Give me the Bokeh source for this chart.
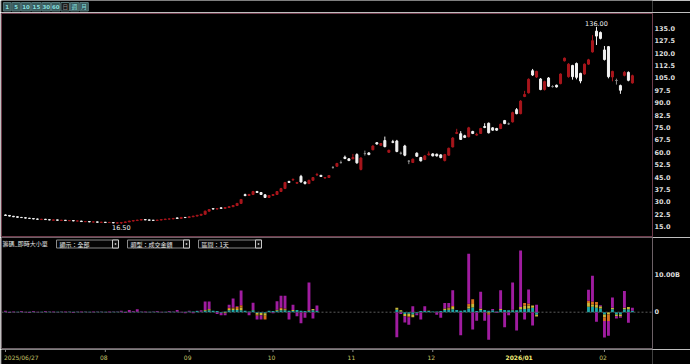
from bokeh.plotting import figure
from bokeh.layouts import column
from bokeh.models import Range1d, LinearAxis, FixedTicker, PrintfTickFormatter, ColumnDataSource, Span
from bokeh.embed import file_html
from bokeh.resources import INLINE
from bokeh.core.properties import value

# ---------------- data ----------------
open_ = [22.0, 21.7, 21.2, 20.9, 20.5, 20.3, 20.0, 19.8, 19.5, 19.2,
         19.4, 19.1, 18.8, 19.0, 18.7, 18.8, 18.5, 18.6, 18.3, 18.3,
         17.9, 18.0, 17.7, 17.8, 17.5, 17.6, 17.4, 17.4, 17.1, 17.2,
         17.4, 17.8, 18.3, 18.6, 18.9, 19.2, 19.0, 18.8, 18.7, 18.9,
         19.2, 19.5, 19.6, 20.2, 19.9, 20.5, 20.4, 20.9, 21.3, 21.8,
         22.4, 24.3, 25.8, 25.6, 26.3, 26.0, 26.5, 27.0, 27.7, 29.0,
         34.3, 33.8, 34.4, 36.2, 35.6, 34.2, 32.6, 33.8, 34.4, 36.2,
         38.0, 42.3, 43.2, 41.2, 45.4, 42.0, 41.0, 43.0, 46.2, 46.0,
         44.4, 44.7, 50.8, 51.5, 53.8, 57.0, 56.0, 56.0, 58.6, 49.6,
         59.2, 59.6, 61.5, 65.8, 64.2, 67.1, 60.0, 66.4, 66.8, 59.4,
         63.8, 54.6, 53.8, 59.4, 56.8, 55.6, 58.4, 59.0, 58.8, 58.4,
         55.0, 58.2, 63.2, 71.4, 71.2, 70.0, 69.4, 72.6, 70.4, 71.4,
         75.6, 77.6, 74.8, 74.4, 74.4, 79.2, 77.2, 78.4, 85.8, 83.4,
         93.8, 96.0, 109.4, 105.6, 104.4, 98.0, 105.0, 99.8, 100.6, 101.6,
         115.4, 105.8, 112.6, 113.8, 107.8, 107.4, 113.4, 120.8, 133.4, 132.6,
         122.0, 124.0, 105.6, 103.5, 100.4, 106.6, 108.4, 102.0]
high_ = [22.3, 21.9, 21.4, 21.1, 20.8, 20.5, 20.2, 20.0, 19.8, 19.6,
         19.6, 19.3, 19.2, 19.1, 19.0, 18.9, 18.8, 18.7, 18.6, 18.4,
         18.2, 18.1, 18.0, 17.9, 17.8, 17.7, 17.6, 17.5, 17.4, 17.6,
         17.9, 18.4, 18.7, 19.0, 19.3, 19.3, 19.1, 18.9, 19.0, 19.3,
         19.6, 19.8, 20.0, 20.4, 20.6, 20.6, 21.0, 21.4, 21.9, 22.6,
         24.6, 25.6, 25.9, 26.0, 26.5, 26.7, 27.2, 27.9, 29.2, 31.6,
         34.9, 34.8, 36.6, 36.6, 35.8, 34.5, 34.1, 34.7, 36.5, 38.4,
         42.0, 42.7, 44.2, 42.0, 46.3, 42.3, 43.3, 45.0, 47.5, 46.3,
         45.0, 46.2, 51.6, 53.6, 55.0, 58.0, 56.4, 59.0, 59.4, 57.0,
         61.0, 60.0, 64.2, 66.2, 65.6, 69.5, 61.5, 67.5, 67.5, 60.4,
         64.5, 55.2, 56.2, 60.0, 57.2, 58.2, 60.5, 59.4, 59.2, 58.8,
         59.0, 62.8, 69.2, 74.2, 72.8, 70.6, 75.4, 73.0, 71.8, 74.8,
         77.6, 78.0, 75.2, 74.8, 77.4, 79.6, 78.0, 84.6, 86.8, 91.6,
         97.2, 104.8, 110.5, 109.4, 105.0, 103.4, 105.6, 100.6, 101.0, 107.8,
         117.4, 114.0, 113.0, 114.4, 108.2, 113.8, 116.6, 131.0, 136.0, 133.2,
         124.4, 124.4, 109.4, 104.6, 101.0, 109.2, 109.0, 107.0]
low_ = [21.5, 21.1, 20.7, 20.4, 20.2, 19.9, 19.7, 19.4, 19.2, 19.1,
        19.0, 18.8, 18.7, 18.6, 18.5, 18.4, 18.3, 18.2, 18.1, 17.9,
        17.7, 17.6, 17.5, 17.4, 17.3, 17.2, 17.1, 17.0, 16.9, 16.5,
        17.3, 17.7, 18.1, 18.4, 18.8, 18.9, 18.7, 18.5, 18.6, 18.8,
        19.1, 19.3, 19.5, 19.8, 19.8, 20.2, 20.3, 20.8, 21.2, 21.7,
        22.3, 24.1, 25.4, 25.4, 25.8, 25.9, 26.4, 26.9, 27.6, 28.9,
        33.3, 33.6, 34.3, 35.4, 34.2, 32.3, 32.4, 33.6, 34.3, 36.0,
        37.8, 41.4, 42.8, 40.9, 41.6, 40.5, 40.8, 42.8, 45.8, 45.0,
        44.0, 44.5, 50.0, 51.2, 53.0, 55.8, 54.6, 55.8, 53.0, 49.0,
        58.0, 58.2, 61.2, 64.6, 64.0, 63.0, 59.6, 65.5, 60.0, 58.6,
        57.6, 52.8, 53.5, 57.2, 54.4, 55.2, 58.0, 57.5, 57.4, 56.3,
        54.4, 58.0, 63.0, 71.0, 67.5, 68.6, 69.0, 71.0, 70.0, 71.2,
        74.6, 71.4, 73.0, 73.0, 74.0, 77.0, 76.6, 78.0, 83.0, 83.0,
        93.4, 95.6, 106.2, 105.0, 97.6, 97.4, 99.6, 99.2, 99.2, 101.2,
        115.0, 105.2, 104.0, 104.2, 101.8, 107.0, 113.0, 120.4, 125.0, 128.4,
        115.6, 104.8, 103.0, 101.0, 95.4, 106.0, 103.0, 101.6]
close_ = [21.7, 21.3, 20.9, 20.6, 20.4, 20.1, 19.9, 19.6, 19.4, 19.4,
          19.2, 19.0, 19.0, 18.8, 18.8, 18.6, 18.6, 18.4, 18.4, 18.0,
          18.0, 17.8, 17.8, 17.6, 17.6, 17.4, 17.5, 17.2, 17.2, 17.4,
          17.8, 18.3, 18.6, 18.9, 19.2, 19.0, 18.8, 18.7, 18.9, 19.2,
          19.5, 19.6, 19.9, 19.9, 20.5, 20.4, 20.9, 21.3, 21.8, 22.4,
          24.3, 25.3, 25.6, 25.8, 26.0, 26.5, 27.0, 27.7, 29.0, 31.4,
          33.8, 34.4, 36.2, 35.6, 34.4, 32.6, 33.8, 34.4, 36.2, 38.0,
          41.7, 41.7, 43.5, 41.7, 42.0, 41.0, 43.0, 44.7, 46.5, 45.3,
          44.7, 45.9, 50.8, 53.2, 53.8, 56.2, 55.0, 56.8, 53.6, 56.5,
          59.2, 58.6, 63.8, 65.0, 65.3, 63.4, 61.2, 66.0, 60.5, 59.4,
          58.2, 54.6, 55.8, 57.6, 54.8, 57.8, 59.0, 57.8, 57.8, 56.8,
          58.6, 62.4, 68.6, 72.0, 67.8, 69.0, 74.8, 71.4, 70.8, 74.4,
          75.0, 71.8, 73.4, 73.4, 77.0, 77.4, 77.2, 84.0, 83.4, 91.0,
          95.0, 104.2, 106.8, 109.0, 98.0, 102.8, 100.0, 99.8, 99.6, 107.4,
          117.0, 113.4, 105.8, 105.4, 103.2, 113.4, 116.0, 127.6, 130.4, 129.0,
          116.2, 105.8, 109.0, 103.5, 97.6, 108.4, 103.6, 106.4]

x_tick_pos = [0, 25, 46, 67, 87, 107, 129, 150]
x_tick_labels = ["2025/06/27", "08", "09", "10", "11", "12", "2026/01", "02"]
price_ticks = [15.0, 22.5, 30.0, 37.5, 45.0, 52.5, 60.0, 67.5, 75.0, 82.5,
               90.0, 97.5, 105.0, 112.5, 120.0, 127.5, 135.0]
vol_ticks = [0, 10]
vol_tick_labels = ["0", "10.00B"]

# net order-flow by order size (billions), days that have data
flow_day = list(range(0, 79)) + list(range(98, 134)) + list(range(146, 158))
flow_small = [0.1, 0.1, -0.1, 0.1, 0.1, -0.1, 0.1, 0.1, -0.1, 0.1,
              0.1, 0.1, -0.1, 0.1, 0.1, -0.1, 0.1, 0.1, 0.1, -0.1,
              0.1, 0.1, -0.1, 0.1, 0.1, 0.1, -0.1, 0.1, 0.1, 0.1,
              0.1, -0.1, 0.1, 0.1, 0.1, -0.1, 0.1, 0.1, 0.1, -0.1,
              0.1, 0.1, 0.1, 0.1, -0.1, 0.1, 0.2,
              0.2, 0.3, 0.1, 0.4, 0.5, 0.4, 0.3, -0.2, 0.2, 0.5,
              0.6, 0.6, 0.5, 0.4, 0.2, 0.5, -0.2, -0.2, -0.3, 0.4,
              0.3, 0.4, 0.5, 0.5, 0.4, 0.3, 0.6, 0.4, 0.3, 0.3,
              0.5, 0.3,
              0.7, 0.2, -0.5, -0.4, -0.6, -0.3, 0.3, 0.3, 0.3, 0.2,
              0.2, 0.3, 0.6, 0.7, 0.8, 0.6, 0.4, 0.5, 1.0, 1.3,
              0.3, 0.6, 0.6, 0.4, 0.5, 0.2, 0.6, 0.6, 0.5, 0.5,
              0.5, 0.8, 0.9, 1.0, 1.2, -0.7,
              1.5, 1.5, 1.2, 1.0, -0.6, 0.0, 0.8, -0.6, -0.6, 0.8, 0.8, 0.4]
flow_medium = [0.0, 0.0, 0.0, 0.0, 0.0, 0.0, 0.0, 0.0, 0.0, 0.0,
               0.0, 0.0, 0.0, 0.0, 0.0, 0.0, 0.0, 0.0, 0.0, 0.0,
               0.0, 0.0, 0.0, 0.0, 0.0, 0.0, 0.0, 0.0, 0.0, 0.0,
               0.0, 0.0, 0.0, 0.0, 0.0, 0.0, 0.0, 0.0, 0.0, 0.0,
               0.0, 0.0, 0.0, 0.0, 0.0, 0.0, 0.0,
               0.0, 0.0, 0.0, 0.2, 0.3, 0.0, 0.0, 0.0, -0.3, 0.4,
               0.4, 0.3, 0.8, 0.0, 0.0, 0.1, -0.5, -0.6, -0.7, 0.0,
               0.0, 0.3, 0.4, 0.3, 0.0, 0.3, 0.0, 0.0, 0.0, 0.2,
               0.4, 0.0,
               0.5, 0.3, -0.6, -0.7, -0.8, 0.0, 0.0, 0.0, 0.1, 0.0,
               0.0, 0.0, 0.4, 0.4, 0.6, 0.0, 0.0, 0.0, 0.6, 0.9,
               0.0, 0.4, 0.0, -0.3, 0.0, 0.0, 0.3, 0.0, 0.0, 0.2,
               0.0, 0.6, 0.9, 0.8, 0.6, -0.5,
               1.0, 0.6, 0.8, 0.6, -0.8, -0.6, 0.4, -0.5, -0.6, 0.4, 0.6, 0.0]
flow_large = [0.0, 0.0, 0.0, 0.0, 0.0, 0.0, 0.0, 0.0, 0.0, 0.0,
              0.0, 0.0, 0.0, 0.0, 0.0, 0.0, 0.0, 0.0, 0.0, 0.0,
              0.0, 0.0, 0.0, 0.0, 0.0, 0.0, 0.0, 0.0, 0.0, 0.0,
              0.0, 0.0, 0.0, 0.0, 0.0, 0.0, 0.0, 0.0, 0.0, 0.0,
              0.0, 0.0, 0.0, 0.0, 0.0, 0.0, 0.0,
              0.0, 0.0, 0.0, 0.0, 0.1, 0.0, 0.0, 0.0, 0.0, 0.3,
              0.3, 0.5, 0.6, 0.0, 0.0, 0.0, -0.3, 0.0, -1.0, 0.0,
              0.0, 0.0, 0.3, 0.2, 0.0, 0.0, 0.0, 0.0, 0.0, 0.0,
              0.0, 0.0,
              0.0, 0.0, 0.0, -0.3, 0.0, 0.0, 0.0, 0.0, 0.0, 0.0,
              0.0, 0.0, 0.0, 0.2, 0.3, 0.0, 0.0, 0.0, 0.7, 1.3,
              0.0, 0.0, 0.0, -0.4, 0.0, 0.0, 0.0, 0.0, 0.0, 0.0,
              0.0, 0.0, 0.7, 0.6, 0.0, 0.0,
              0.6, 0.8, 0.8, 0.0, -1.0, -1.8, 0.0, 0.0, 0.0, 0.0, 0.0, 0.0]
flow_xlarge = [0.3, -0.2, 0.2, -0.1, 0.2, 0.1, -0.2, 0.2, 0.1, -0.1,
               0.2, 0.1, 0.2, -0.1, 0.1, 0.2, 0.1, -0.2, 0.1, 0.2,
               0.1, -0.1, 0.2, 0.1, 0.1, -0.1, 0.2, 0.1, 0.1, 0.3,
               -0.2, 0.6, 0.2, 0.7, 0.1, 0.2, -0.1, 0.1, 0.2, 0.1,
               -0.1, 0.2, 0.1, 0.5, 0.1, -0.3, 0.2,
               -0.3, 0.1, 0.4, 2.3, 2.0, 0.0, -0.5, -0.6, -0.5, 0.8,
               2.4, 0.2, 4.0, 0.0, -0.8, 2.0, -1.0, -1.2, 0.0, 0.0,
               -0.3, 2.3, 3.3, 3.5, -2.0, 1.4, -1.1, -3.0, -1.5, 7.6,
               -1.7, 1.5,
               -6.8, -0.5, -1.7, -2.0, 1.6, -0.5, -2.0, 1.3, 0.0, 0.0,
               -0.7, -1.5, 1.5, 1.2, 4.3, 0.0, -6.3, 0.0, 13.6, -4.7,
               -2.3, 4.6, -2.3, -6.8, 0.4, -0.2, 5.1, -4.1, -0.8, 7.4,
               -5.0, 15.4, -2.0, 3.8, -3.6, 2.0,
               3.0, 7.0, -2.6, 0.3, -4.5, -4.0, 2.8, -0.6, -0.3, 4.6, -2.9, 0.8]

# ---------------- styling ----------------
BG = "#000000"
UP = "#a8161c"
DOWN = "#f2f2f2"
FLAT = "#8c8c8c"
FRAME1 = "#6e3c4c"
FRAME2 = "#6c6066"
LABEL = "#dcdcdc"
NUMFONT = "DejaVu Sans"
CJKFONT = "Noto Sans CJK TC"
FLOW_COLORS = ["#1ea6a6", "#c8b83a", "#d8701e", "#a01ca0"]

xr = Range1d(-1.0, 162.03)


def fig(height, x_range, y_range, top, bottom, left=1, right=38, outline=None):
    f = figure(width=690, height=height, x_range=x_range, y_range=y_range,
               x_axis_type=None, y_axis_type=None, output_backend="svg",
               toolbar_location=None, min_border_left=left, min_border_right=right,
               min_border_top=top, min_border_bottom=bottom,
               background_fill_color=BG, border_fill_color=BG,
               outline_line_color=outline)
    return f


# ---------------- top button strip ----------------
ptop = fig(12, Range1d(0, 690), Range1d(12, 0), 0, 0, left=0, right=0)
btn_text = ["1", "5", "10", "15", "30", "60", "日", "週", "月"]
btn_left = [2, 11, 21, 32, 43, 53, 63, 73, 83]
btn_right = [10, 20, 31, 42, 52, 62, 72, 82, 92]
btn_fill = ["#38595a"] * 6 + ["#1a1a1a", "#38595a", "#38595a"]
ptop.quad(left=btn_left, right=btn_right, top=[2] * 9, bottom=[10.5] * 9,
          fill_color=btn_fill, line_color="#56787a", line_width=1)
ptop.text(x=[(a + b) / 2 for a, b in zip(btn_left[:6], btn_right[:6])], y=[6.4] * 6,
          text=btn_text[:6], text_align="center", text_baseline="middle",
          text_font=value(NUMFONT), text_font_size="5.5px", text_font_style="bold",
          text_color="#86dede")
ptop.text(x=[(a + b) / 2 for a, b in zip(btn_left[6:], btn_right[6:])], y=[6.4] * 3,
          text=btn_text[6:], text_align="center", text_baseline="middle",
          text_font=value(CJKFONT), text_font_size="6px",
          text_color=["#8a8a8a", "#86dede", "#86dede"])

# ---------------- price panel ----------------
pp = fig(225, xr, Range1d(8.94, 144.09), 1, 1, outline=FRAME1)
n = len(close_)
colors = [UP if c > o else (DOWN if c < o else FLAT) for o, c in zip(open_, close_)]
src = ColumnDataSource(dict(x=list(range(n)), h=high_, l=low_,
                            top=[max(o, c) for o, c in zip(open_, close_)],
                            bottom=[min(o, c) for o, c in zip(open_, close_)],
                            color=colors))
pp.segment(x0="x", y0="l", x1="x", y1="h", line_color="color", line_width=1, source=src)
pp.vbar(x="x", width=0.5, top="top", bottom="bottom", fill_color="color",
        line_color="color", line_width=1, source=src)

hi_i = max(range(n), key=lambda i: high_[i])
lo_i = min(range(n), key=lambda i: low_[i])
pp.text(x=[hi_i], y=[high_[hi_i]], text=["%.2f" % high_[hi_i]], text_align="center",
        text_baseline="bottom", y_offset=-1, text_font=value(NUMFONT),
        text_font_size="6.5px", text_color="#ececec")
pp.text(x=[lo_i], y=[low_[lo_i]], text=["%.2f" % low_[lo_i]], text_align="center",
        text_baseline="top", y_offset=1, text_font=value(NUMFONT),
        text_font_size="6.5px", text_color="#ececec")

pax = LinearAxis(ticker=FixedTicker(ticks=price_ticks),
                 formatter=PrintfTickFormatter(format="%.1f"))
pax.axis_line_color = None
pax.major_tick_line_color = None
pax.minor_tick_line_color = None
pax.major_tick_out = 0
pax.major_tick_in = 0
pax.major_label_standoff = 2
pax.major_label_text_color = LABEL
pax.major_label_text_font = NUMFONT
pax.major_label_text_font_size = "6.5px"
pax.major_label_text_font_style = "bold"
pp.add_layout(pax, "right")

# ---------------- order-flow panel ----------------
pv = fig(112, xr, Range1d(-9.89, 20.35), 0, 1, outline=FRAME2)
pv.extra_x_ranges = {"ui": Range1d(1, 652)}
pv.extra_y_ranges = {"ui": Range1d(348, 237)}

bx, btop, bbot, bcol = [], [], [], []
series = [flow_small, flow_medium, flow_large, flow_xlarge]
for j, d in enumerate(flow_day):
    pos = 0.0
    neg = 0.0
    for arr, col in zip(series, FLOW_COLORS):
        v = arr[j]
        if v > 0:
            bx.append(d); bbot.append(pos); btop.append(pos + v); bcol.append(col)
            pos += v
        elif v < 0:
            bx.append(d); bbot.append(neg); btop.append(neg + v); bcol.append(col)
            neg += v
pv.add_layout(Span(location=0, dimension="width", line_color="#5a5a5a",
                   line_dash="2 2", line_width=1))
pv.vbar(x=bx, top=btop, bottom=bbot, width=0.72, fill_color=bcol, line_color=None)

vax = LinearAxis(ticker=FixedTicker(ticks=vol_ticks),
                 major_label_overrides={t: s for t, s in zip(vol_ticks, vol_tick_labels)})
vax.axis_line_color = None
vax.major_tick_line_color = None
vax.minor_tick_line_color = None
vax.major_tick_out = 0
vax.major_tick_in = 0
vax.major_label_standoff = 2
vax.major_label_text_color = LABEL
vax.major_label_text_font = NUMFONT
vax.major_label_text_font_size = "6.5px"
vax.major_label_text_font_style = "bold"
pv.add_layout(vax, "right")

# header controls (in panel pixel units)
pv.text(x=[2], y=[242.6], text=["籌碼_即時大小單"], text_baseline="middle",
        text_font=value(CJKFONT), text_font_size="6px", text_color="#e6e6e6",
        x_range_name="ui", y_range_name="ui")
box_l = [56, 127, 198]
box_r = [118, 189, 261]
box_t = ["顯示：全部", "類型：成交金額", "區間：1天"]
pv.quad(left=box_l, right=box_r, top=[239.5] * 3, bottom=[247.5] * 3, fill_color="#050505",
        line_color="#8a8a8a", line_width=1, x_range_name="ui", y_range_name="ui")
pv.quad(left=[r - 6 for r in box_r], right=box_r, top=[239.5] * 3, bottom=[247.5] * 3,
        fill_color="#101010", line_color="#c8c8c8", line_width=1,
        x_range_name="ui", y_range_name="ui")
pv.rect(x=[r - 3 for r in box_r], y=[243.5] * 3, width=1.5, height=1.5,
        fill_color="#e0e0e0", line_color=None, x_range_name="ui", y_range_name="ui")
pv.text(x=[l + 3 for l in box_l], y=[243.6] * 3, text=box_t, text_baseline="middle",
        text_font=value(CJKFONT), text_font_size="6px", text_color="#e6e6e6",
        x_range_name="ui", y_range_name="ui")

# ---------------- date axis strip ----------------
px = fig(15, xr, Range1d(364, 349), 0, 0)
px.segment(x0=x_tick_pos, y0=[349] * len(x_tick_pos), x1=x_tick_pos,
           y1=[351.5] * len(x_tick_pos), line_color="#8a8a8a", line_width=1)
lab_color = ["#c8c46a"] * len(x_tick_labels)
lab_style = ["normal"] * len(x_tick_labels)
for i, s in enumerate(x_tick_labels):
    if "/" in s and i > 0:
        lab_color[i] = "#f2ee7a"
        lab_style[i] = "bold"
align = ["left"] + ["center"] * (len(x_tick_labels) - 1)
xsrc = ColumnDataSource(dict(x=x_tick_pos, y=[356.5] * len(x_tick_pos), t=x_tick_labels,
                             c=lab_color, s=lab_style, a=align))
px.text(x="x", y="y", text="t", text_color="c", text_font_style="s", text_align="a",
        text_baseline="middle", x_offset=-1.5, text_font=value(NUMFONT),
        text_font_size="6px", source=xsrc)

layout = column(ptop, pp, pv, px, spacing=0)
open("out.html", "w").write(file_html(layout, INLINE))
